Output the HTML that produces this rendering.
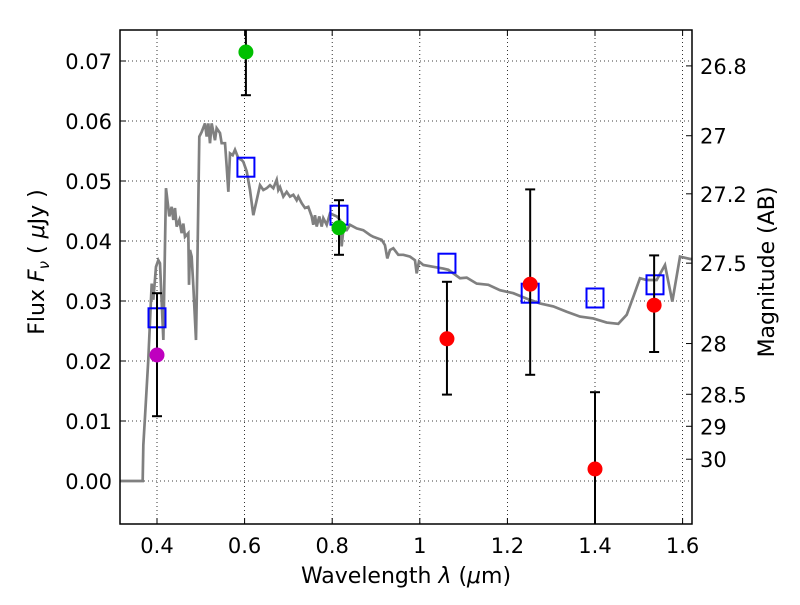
<!DOCTYPE html>
<html><head><meta charset="utf-8"><style>
body{margin:0;background:#fff;}
svg text{font-family:"DejaVu Sans","Liberation Sans",sans-serif;}
</style></head><body>
<svg id="c" width="800" height="600" xmlns="http://www.w3.org/2000/svg"></svg>
<script>
const specW=[0.3155,0.3635,0.3673,0.3688,0.3726,0.3801,0.3879,0.3916,0.3977,0.4030,0.4068,0.4145,0.4205,0.4281,0.4335,0.4373,0.4411,0.4449,0.4510,0.4563,0.4601,0.4639,0.4715,0.4731,0.4753,0.4791,0.4830,0.4890,0.4921,0.4966,0.5021,0.5096,0.5134,0.5172,0.5210,0.5248,0.5324,0.5362,0.5438,0.5476,0.5553,0.5591,0.5629,0.5667,0.5728,0.5781,0.5857,0.5933,0.5971,0.6048,0.6123,0.6199,0.6276,0.6352,0.6428,0.6504,0.6580,0.6656,0.6733,0.6770,0.6808,0.6884,0.6961,0.7037,0.7113,0.7189,0.7226,0.7304,0.7379,0.7454,0.7532,0.7568,0.7607,0.7646,0.7705,0.7760,0.7797,0.7875,0.7950,0.8103,0.8178,0.8216,0.8253,0.8331,0.8406,0.8559,0.8710,0.8863,0.8938,0.9053,0.9130,0.9205,0.9258,0.9320,0.9395,0.9509,0.9624,0.9776,0.9890,0.9929,0.9982,1.0080,1.0308,1.0537,1.0651,1.0918,1.1071,1.1299,1.1564,1.1831,1.2135,1.2441,1.2744,1.3048,1.3354,1.3658,1.3961,1.4267,1.4532,1.4724,1.4875,1.5027,1.5180,1.5408,1.5598,1.5765,1.5941,1.6169,1.6215];
const specF=[0,0,0,0.006,0.0107,0.0202,0.0329,0.0302,0.0357,0.0368,0.0363,0.0235,0.0488,0.0441,0.0457,0.0435,0.0455,0.0424,0.0435,0.0413,0.0429,0.0407,0.0413,0.0327,0.0385,0.0374,0.0324,0.0235,0.0357,0.0574,0.0582,0.0596,0.0574,0.0596,0.0563,0.0596,0.0568,0.0588,0.0580,0.0563,0.0563,0.0524,0.0482,0.0546,0.0543,0.0552,0.0538,0.0535,0.0532,0.0516,0.0485,0.0443,0.0468,0.0493,0.0485,0.0488,0.0493,0.0488,0.0502,0.0485,0.0490,0.0474,0.0482,0.0474,0.0477,0.0468,0.0474,0.0463,0.0455,0.0457,0.0441,0.0427,0.0443,0.0424,0.0441,0.0424,0.0438,0.0427,0.0446,0.0441,0.0435,0.0391,0.0418,0.0418,0.0427,0.0421,0.0418,0.0410,0.0407,0.0404,0.0402,0.0393,0.0371,0.0385,0.0388,0.0377,0.0377,0.0374,0.0368,0.0346,0.0366,0.0360,0.0357,0.0354,0.0352,0.0338,0.0339,0.0329,0.0327,0.0318,0.0313,0.0304,0.0296,0.0291,0.0282,0.0274,0.0271,0.0264,0.0262,0.0277,0.0307,0.0338,0.0335,0.0335,0.0360,0.0299,0.0374,0.0370,0.0370];
const obsW=[0.40,0.603,0.8155,1.062,1.252,1.40,1.535];
const obsF=[0.021,0.0715,0.0422,0.0237,0.0328,0.002,0.0293];
const obsLo=[0.0108,0.0643,0.0377,0.0144,0.0177,-0.02,0.0215];
const obsHi=[0.0313,0.09,0.0468,0.0332,0.0486,0.0148,0.0376];
const obsColor=['#bf00bf','#00c000','#00c000','#ff0000','#ff0000','#ff0000','#ff0000'];
const modW=[0.40,0.603,0.8155,1.062,1.252,1.40,1.537];
const modF=[0.0272,0.0523,0.0443,0.0363,0.0313,0.0305,0.0327];
const xTicks=[0.4,0.6,0.8,1.0,1.2,1.4,1.6];
const xTickLabels=['0.4','0.6','0.8','1','1.2','1.4','1.6'];
const yTicks=[0,0.01,0.02,0.03,0.04,0.05,0.06,0.07];
const yTickLabels=['0.00','0.01','0.02','0.03','0.04','0.05','0.06','0.07'];
const magTicks=[26.8,27,27.2,27.5,28,28.5,29,30];
const magLabels=['26.8','27','27.2','27.5','28','28.5','29','30'];

const L=120,R=692,T=30,B=524;
const X=w=>157+(w-0.4)*438;
const Y=f=>481-f*6000;
const svg=document.getElementById('c');
const NS='http://www.w3.org/2000/svg';
function mk(tag,attrs,parent){const e=document.createElementNS(NS,tag);for(const k in attrs)e.setAttribute(k,attrs[k]);(parent||svg).appendChild(e);return e;}
const defs=mk('clipPath',{id:'clip'});mk('rect',{x:L,y:T,width:R-L,height:B-T},defs);
const grid=mk('g',{});


xTicks.forEach((t,i)=>{
  mk('line',{x1:X(t),x2:X(t),y1:T,y2:B,stroke:'#000','stroke-width':0.8,'stroke-dasharray':'1,3'},grid);
  mk('line',{x1:X(t),x2:X(t),y1:B,y2:B-6,stroke:'#000'},svg);
  mk('line',{x1:X(t),x2:X(t),y1:T,y2:T+6,stroke:'#000'},svg);
  const tx=mk('text',{x:X(t),y:B+29,'font-size':21,'text-anchor':'middle'});
  tx.textContent=xTickLabels[i];
  
  
});
yTicks.forEach((t,i)=>{
  mk('line',{x1:L,x2:R,y1:Y(t),y2:Y(t),stroke:'#000','stroke-width':0.8,'stroke-dasharray':'1,3'},grid);
  mk('line',{x1:L,x2:L+6,y1:Y(t),y2:Y(t),stroke:'#000'},svg);
  const tx=mk('text',{x:L-8,y:Y(t)+8,'font-size':21,'text-anchor':'end'});
  tx.textContent=yTickLabels[i];
  
  
});
magTicks.forEach((m,i)=>{
  const f=Math.pow(10,(23.9-m)/2.5);
  mk('line',{x1:R,x2:R-6,y1:Y(f),y2:Y(f),stroke:'#000'},svg);
  const tx=mk('text',{x:R+8,y:Y(f)+8,'font-size':21});
  tx.textContent=magLabels[i];
  
  
});
const pl=mk('polyline',{points:specW.map((w,i)=>X(w)+','+Y(specF[i])).join(' '),fill:'none',stroke:'#808080','stroke-width':2.7,'clip-path':'url(#clip)'});


modW.forEach((w,i)=>{
  const r=mk('rect',{x:X(w)-8.5,y:Y(modF[i])-9.5,width:17,height:19,fill:'none',stroke:'#0000ff','stroke-width':2});
  
  
});
obsW.forEach((w,i)=>{
  const g=mk('g',{'clip-path':'url(#clip)'});
  
  
  mk('line',{x1:X(w),x2:X(w),y1:Y(obsLo[i]),y2:Y(obsHi[i]),stroke:'#000','stroke-width':2},g);
  mk('line',{x1:X(w)-5,x2:X(w)+5,y1:Y(obsLo[i]),y2:Y(obsLo[i]),stroke:'#000','stroke-width':2},g);
  mk('line',{x1:X(w)-5,x2:X(w)+5,y1:Y(obsHi[i]),y2:Y(obsHi[i]),stroke:'#000','stroke-width':2},g);
  mk('circle',{cx:X(w),cy:Y(obsF[i]),r:7.5,fill:obsColor[i]},g);
});
const fr=mk('rect',{x:L,y:T,width:R-L,height:B-T,fill:'none',stroke:'#000','stroke-width':1.5});


const xl=mk('text',{x:406,y:583,'font-size':22,'text-anchor':'middle'});
xl.innerHTML='Wavelength  <tspan font-style="italic">λ</tspan> (<tspan font-style="italic">μ</tspan>m)';


const yl=mk('text',{x:0,y:0,'font-size':22,'text-anchor':'middle',transform:'translate(44,262) rotate(-90)'});
yl.innerHTML='Flux  <tspan font-style="italic">F</tspan><tspan font-size="15" dy="5" font-style="italic">ν</tspan><tspan dy="-5">  (  <tspan font-style="italic">μ</tspan>Jy )</tspan>';


const rl=mk('text',{x:0,y:0,'font-size':22,'text-anchor':'middle',transform:'translate(774,272) rotate(-90)'});
rl.textContent='Magnitude (AB)';


</script>
</body></html>
